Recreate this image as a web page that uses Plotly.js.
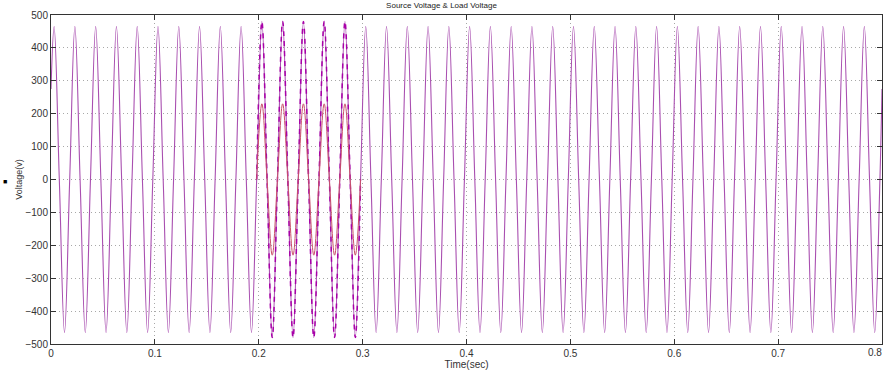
<!DOCTYPE html>
<html><head><meta charset="utf-8">
<script src="https://cdn.plot.ly/plotly-3.0.1.min.js"></script>
<style>html,body{margin:0;padding:0;background:#fff;}#chart{width:883px;height:373px;}</style>
</head><body><div id="chart"></div>
<script>
// Half-cycle peak times (sec) (50 Hz waveform)
const peakTimes = [0.003,0.013,0.023,0.033,0.043,0.053,0.063,0.073,0.083,0.093,
0.103,0.113,0.123,0.133,0.143,0.153,0.163,0.173,0.183,0.193,
0.203,0.213,0.223,0.233,0.243,0.253,0.263,0.273,0.283,0.293,
0.303,0.313,0.323,0.333,0.343,0.353,0.363,0.373,0.383,0.393,
0.403,0.413,0.423,0.433,0.443,0.453,0.463,0.473,0.483,0.493,
0.503,0.513,0.523,0.533,0.543,0.553,0.563,0.573,0.583,0.593,
0.603,0.613,0.623,0.633,0.643,0.653,0.663,0.673,0.683,0.693,
0.703,0.713,0.723,0.733,0.743,0.753,0.763,0.773,0.783,0.793];
// Zero-crossing times (sec)
const zeroTimes = [0.008,0.018,0.028,0.038,0.048,0.058,0.068,0.078,0.088,0.098,
0.108,0.118,0.128,0.138,0.148,0.158,0.168,0.178,0.188,0.198,
0.208,0.218,0.228,0.238,0.248,0.258,0.268,0.278,0.288,0.298,
0.308,0.318,0.328,0.338,0.348,0.358,0.368,0.378,0.388,0.398,
0.408,0.418,0.428,0.438,0.448,0.458,0.468,0.478,0.488,0.498,
0.508,0.518,0.528,0.538,0.548,0.558,0.568,0.578,0.588,0.598,
0.608,0.618,0.628,0.638,0.648,0.658,0.668,0.678,0.688,0.698,
0.708,0.718,0.728,0.738,0.748,0.758,0.768,0.778,0.788,0.798];
// Load voltage peaks (V)
const loadPeaks = [465,-465,465,-465,465,-465,465,-465,465,-465,
465,-465,465,-465,465,-465,465,-465,465,-465,
480,-480,480,-480,480,-480,480,-480,480,-480,
465,-465,465,-465,465,-465,465,-465,465,-465,
465,-465,465,-465,465,-465,465,-465,465,-465,
465,-465,465,-465,465,-465,465,-465,465,-465,
465,-465,465,-465,465,-465,465,-465,465,-465,
465,-465,465,-465,465,-465,465,-465,465,-465];
// Source voltage peaks (V) – sag between 0.2 and 0.3 s
const sourcePeaks = [465,-465,465,-465,465,-465,465,-465,465,-465,
465,-465,465,-465,465,-465,465,-465,465,-465,
230,-230,230,-230,230,-230,230,-230,230,-230,
465,-465,465,-465,465,-465,465,-465,465,-465,
465,-465,465,-465,465,-465,465,-465,465,-465,
465,-465,465,-465,465,-465,465,-465,465,-465,
465,-465,465,-465,465,-465,465,-465,465,-465,
465,-465,465,-465,465,-465,465,-465,465,-465];
const startValue = 275, endValue = 275; // values at t=0 and t=0.8
const sagStart = 0.2, sagEnd = 0.3;
const xTicks = [0, 0.1, 0.2, 0.3, 0.4, 0.5, 0.6, 0.7, 0.8];
const xTickText = ['0', '0.1', '0.2', '0.3', '0.4', '0.5', '0.6', '0.7', '0.8'];
const yTicks = [-500, -400, -300, -200, -100, 0, 100, 200, 300, 400, 500];

function wave(peaks, from, to, v0, v1) {
  const x = [], y = [];
  if (v0 !== null) { x.push(0); y.push(v0); }
  for (let i = 0; i < peakTimes.length; i++) {
    if (peakTimes[i] >= from && peakTimes[i] <= to) { x.push(peakTimes[i]); y.push(peaks[i]); }
    if (zeroTimes[i] >= from && zeroTimes[i] <= to) { x.push(zeroTimes[i]); y.push(0); }
  }
  if (v1 !== null) { x.push(0.8); y.push(v1); }
  return {x, y};
}
const load = wave(loadPeaks, 0, 0.8, startValue, endValue);
const loadSag = wave(loadPeaks, sagStart - 0.003, sagEnd - 0.002, null, null);
const srcSag = wave(sourcePeaks, sagStart - 0.0021, sagEnd - 0.002, null, null);

const traces = [
  {x: load.x, y: load.y, mode: 'lines', line: {color: '#a94fb0', width: 1.1, shape: 'spline', smoothing: 1.1}, hoverinfo: 'skip'},
  {x: loadSag.x, y: loadSag.y, mode: 'lines', line: {color: '#a800a8', width: 1.5, dash: '5px,5px', shape: 'spline', smoothing: 1.1}, hoverinfo: 'skip'},
  {x: srcSag.x, y: srcSag.y, mode: 'lines', line: {color: '#c8506a', width: 1, shape: 'spline', smoothing: 1.1}, hoverinfo: 'skip'}
];

const fam = 'Liberation Sans, Arial, sans-serif';
const tickFont = {family: fam, size: 10, color: '#333'};
const lastTick = xTicks.length - 1;
const layout = {
  width: 883, height: 373,
  margin: {l: 51, r: 1, t: 15, b: 29},
  paper_bgcolor: '#fff', plot_bgcolor: '#fff',
  showlegend: false,
  title: {text: 'Source Voltage &amp; Load Voltage', font: {family: fam, size: 8, color: '#222'}, x: 0.5, xanchor: 'center', y: 0.985, yanchor: 'middle'},
  xaxis: {range: [0, 0.8], tickmode: 'array', tickvals: xTicks, ticktext: xTickText,
    ticks: 'inside', ticklen: 5, tickcolor: '#333',
    showline: true, mirror: 'ticks', linecolor: '#333', linewidth: 1,
    showgrid: true, gridcolor: '#a8a8a8', griddash: '1px,3px', gridwidth: 1, zeroline: false,
    tickfont: tickFont, automargin: false,
    title: {text: 'Time(sec)', font: {family: fam, size: 10, color: '#333'}, standoff: 1}},
  yaxis: {range: [-500, 500], tickmode: 'array', tickvals: yTicks,
    ticks: 'inside', ticklen: 5, tickcolor: '#333',
    showline: true, mirror: 'ticks', linecolor: '#333', linewidth: 1,
    showgrid: true, gridcolor: '#a8a8a8', griddash: '1px,3px', gridwidth: 1, zeroline: false,
    tickfont: tickFont, automargin: false,
    title: {text: 'Voltage(v)', font: {family: fam, size: 9, color: '#333'}, standoff: 1}},
  annotations: [
    {text: '■', xref: 'paper', yref: 'paper', x: -0.055, xanchor: 'center', y: 0.495, showarrow: false, font: {size: 7, color: '#000'}},
    {text: xTickText[lastTick], xref: 'x', yref: 'paper', x: xTicks[lastTick], xanchor: 'right', y: 0, yanchor: 'top', yshift: -1, xshift: 2, showarrow: false, font: tickFont}
  ]
};
Plotly.newPlot('chart', traces, layout, {displayModeBar: false, staticPlot: true});
</script></body></html>
